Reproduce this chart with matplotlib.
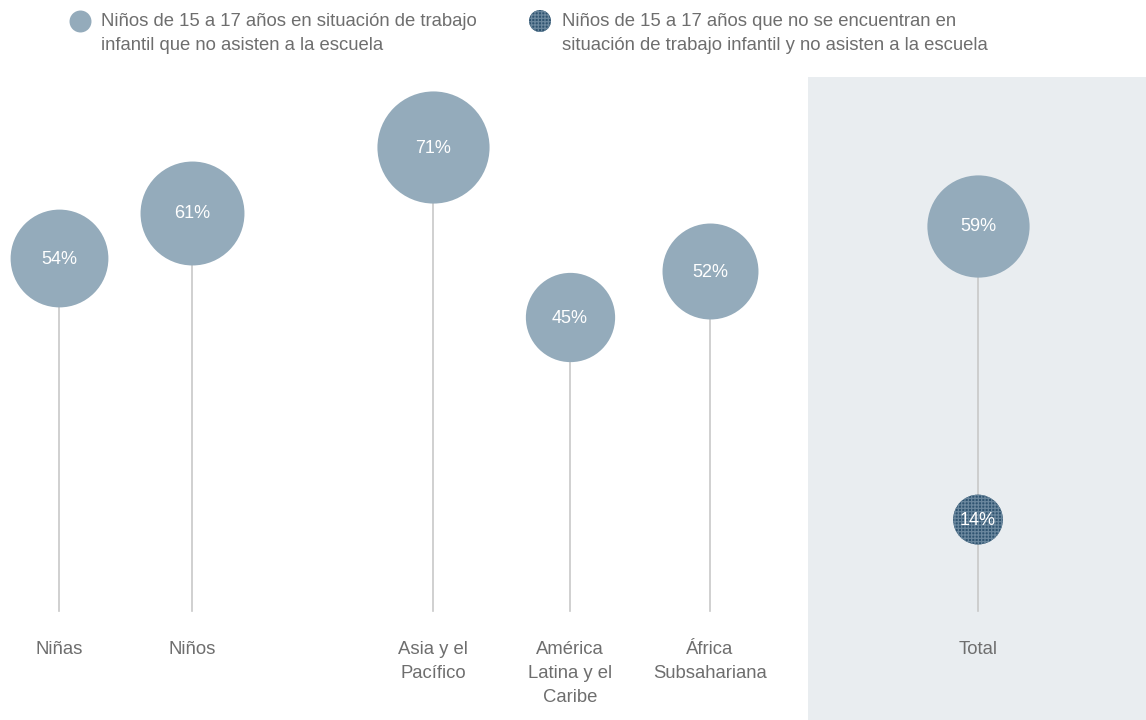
import matplotlib
matplotlib.use('Agg')
import matplotlib.pyplot as plt
from matplotlib.patches import Rectangle

plt.rcParams['font.family'] = ['Liberation Sans', 'DejaVu Sans']
plt.rcParams['hatch.linewidth'] = 0.9

# ============================================================
# DATA
# ============================================================
categories = ['Niñas', 'Niños', 'Asia y el\nPacífico', 'América\nLatina y el\nCaribe',
              'África\nSubsahariana', 'Total']
working_pct = [54, 61, 71, 45, 52, 59]
not_working_total = 14
legend_labels = ['Niños de 15 a 17 años en situación de trabajo\ninfantil que no asisten a la escuela',
                 'Niños de 15 a 17 años que no se encuentran en\nsituación de trabajo infantil y no asisten a la escuela']

# layout (x in pixels across the figure)
x_pos = [59, 192, 433, 570, 710, 978]
BUBBLE = '#94abbb'
DARK = '#2f5470'
HATCH = '#6a879d'
TEXT = '#6e6e6e'
LINE = '#c8c8c8'
SIZE_PER_PCT = 91.8   # area proportional to value
PX = 6.53             # pixels per percentage point
ZERO = 611            # pixel row of 0 %
Y_TOP = ZERO / PX
Y_BOT = -(720 - ZERO) / PX

fig = plt.figure(figsize=(11.46, 7.2), dpi=100)
ax = fig.add_axes([0, 0, 1, 1])
ax.set_xlim(0, 1146)
ax.set_ylim(Y_BOT, Y_TOP)
ax.axis('off')

def ypx(p):
    return Y_TOP - p / PX

# shaded Total panel
ax.add_patch(Rectangle((808, Y_BOT), 338, ypx(77) - Y_BOT, color='#e9edf0', zorder=0, lw=0))

for x, v, lab in zip(x_pos, working_pct, categories):
    ax.plot([x, x], [0, v], color=LINE, lw=1.2, zorder=1)
    ax.scatter([x], [v], s=SIZE_PER_PCT * v, color=BUBBLE, lw=0, zorder=2)
    ax.text(x, v - 0.15, f'{v}%', color='white', fontsize=13, ha='center', va='center', zorder=3)
    ax.text(x, ypx(641), lab, color=TEXT, fontsize=13.3, ha='center', va='top', linespacing=1.55)

ax.scatter([x_pos[-1]], [not_working_total], s=SIZE_PER_PCT * not_working_total,
           facecolor=DARK, edgecolor=HATCH, hatch='+++++', lw=0, zorder=2)
ax.text(x_pos[-1], not_working_total - 0.15, f'{not_working_total}%', color='white', fontsize=13,
        ha='center', va='center', zorder=3)

# legend, drawn by hand
ax.scatter([80], [ypx(21)], s=250, color=BUBBLE, lw=0, clip_on=False)
ax.scatter([540], [ypx(21)], s=250, facecolor=DARK, edgecolor=HATCH,
           hatch='+++++', lw=0, clip_on=False)
ax.text(101, ypx(13), legend_labels[0], color=TEXT, fontsize=13.3,
        ha='left', va='top', linespacing=1.55)
ax.text(562, ypx(13), legend_labels[1], color=TEXT, fontsize=13.3,
        ha='left', va='top', linespacing=1.55)

plt.savefig('out.png', dpi=100)
plt.close()
